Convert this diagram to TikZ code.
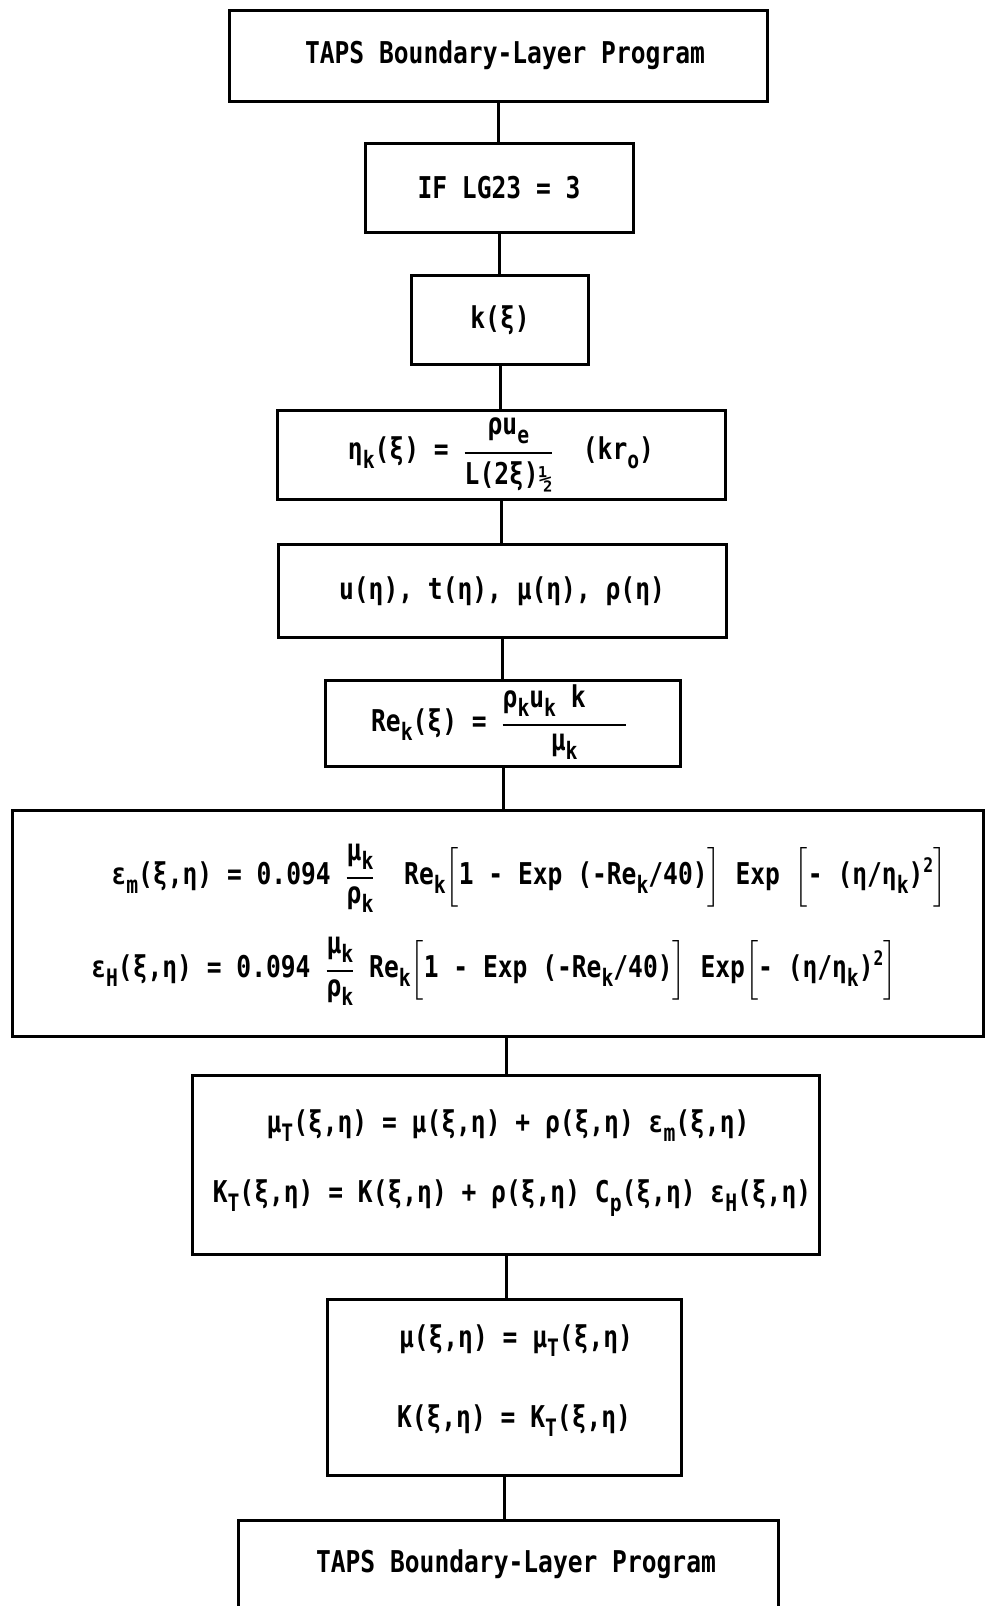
\documentclass[tikz,border=0pt]{standalone}
\usepackage{amsmath}
\usepackage{fontspec}
\setmainfont[FakeStretch=0.82]{DejaVu Sans Mono}
\newcommand{\dn}[1]{\raisebox{-9pt}{\fontsize{24}{24}\selectfont #1}}
\newcommand{\up}[1]{\raisebox{12pt}{\fontsize{20}{20}\selectfont #1}}
\newcommand{\frc}[2]{\genfrac{}{}{2.5pt}{0}{\text{#1}}{\text{#2}}}

\begin{document}
\begin{tikzpicture}[x=1pt,y=-1pt,
    box/.style={draw,line width=3pt,inner sep=0pt,align=center,
      font=\fontsize{30}{36}\selectfont\bfseries},
    eqline/.style={inner sep=0pt,font=\fontsize{30}{36}\selectfont\bfseries}]
  \useasboundingbox (0,0) rectangle (986,1606);
  \clip (0,0) rectangle (986,1606);
  \fill[white] (0,0) rectangle (986,1606);

  \node[box,minimum width=538pt,minimum height=91pt] (taps) at (498,56) {};
  \node[eqline] (tapstxt) at (505,55) {TAPS Boundary-Layer Program};
  \node[box,minimum width=268pt,minimum height=89pt] (lg) at (499,188) {IF LG23 = 3};
  \node[box,minimum width=177pt,minimum height=89pt] (k) at (500,320) {k(ξ)};
  \node[box,minimum width=448pt,minimum height=89pt] (eta) at (501,455)
    {$\text{η\dn{k}(ξ) = }\frc{ρu\dn{e}}{L(2ξ)\raisebox{-4pt}{\fontsize{27}{27}\selectfont ½}}\text{~~(kr\dn{o})}$};
  \node[box,minimum width=448pt,minimum height=93pt] (prof) at (502,591) {u(η), t(η), μ(η), ρ(η)};
  \node[box,minimum width=355pt,minimum height=86pt] (re) at (503,723) {};
  \node[eqline] (retxt) at (499,722)
    {$\text{Re\dn{k}(ξ) = }\frc{ρ\dn{k}u\dn{k} k\hspace{40pt}}{μ\dn{k}}$};

  % eddy viscosity box
  \node[box,minimum width=971pt,minimum height=226pt] (eps) at (497.5,923) {};
  \node[eqline] (epsm) at (529,878)
    {$\text{ε\dn{m}(ξ,η) = 0.094 }\frc{μ\dn{k}}{ρ\dn{k}}\text{~~Re\dn{k}}\biggl[\text{1 - Exp (-Re\dn{k}/40)}\biggr]\text{ Exp~}\biggl[\text{- (η/η\dn{k})\up{2}}\biggr]$};
  \node[eqline] (epsh) at (494,971)
    {$\text{ε\dn{H}(ξ,η) = 0.094 }\frc{μ\dn{k}}{ρ\dn{k}}\text{ Re\dn{k}}\biggl[\text{1 - Exp (-Re\dn{k}/40)}\biggr]\text{~Exp}\biggl[\text{- (η/η\dn{k})\up{2}}\biggr]$};

  % total transport
  \node[box,minimum width=627pt,minimum height=179pt] (tot) at (506,1165) {};
  \node[eqline] (mut) at (508,1126) {μ\dn{T}(ξ,η) = μ(ξ,η) + ρ(ξ,η) ε\dn{m}(ξ,η)};
  \node[eqline] (kt) at (512,1198) {K\dn{T}(ξ,η) = K(ξ,η) + ρ(ξ,η) C\dn{p}(ξ,η) ε\dn{H}(ξ,η)};

  \node[box,minimum width=354pt,minimum height=176pt] (set) at (504,1387) {};
  \node[eqline] (mu) at (516,1341) {μ(ξ,η) = μ\dn{T}(ξ,η)};
  \node[eqline] (kk) at (514,1421) {K(ξ,η) = K\dn{T}(ξ,η)};

  \node[box,minimum width=540pt,minimum height=100pt] (back) at (508,1570) {};
  \node[eqline] (backtxt) at (516,1564) {TAPS Boundary-Layer Program};

  \draw[line width=3pt] (taps.south) -- (taps.south |- lg.north);
  \draw[line width=3pt] (lg.south) -- (lg.south |- k.north);
  \draw[line width=3pt] (k.south) -- (k.south |- eta.north);
  \draw[line width=3pt] (eta.south) -- (eta.south |- prof.north);
  \draw[line width=3pt] (prof.south) -- (prof.south |- re.north);
  \draw[line width=3pt] (re.south) -- (re.south |- eps.north);
  \draw[line width=3pt] (tot.north) -- (tot.north |- eps.south);
  \draw[line width=3pt] (tot.south) -- (tot.south |- set.north);
  \draw[line width=3pt] (set.south) -- (set.south |- back.north);
\end{tikzpicture}
\end{document}
